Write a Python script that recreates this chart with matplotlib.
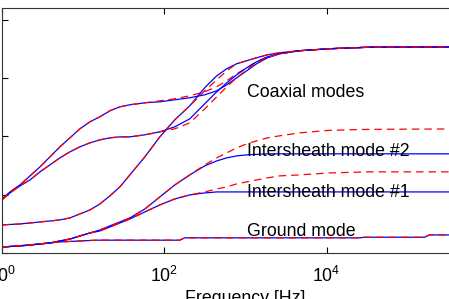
import matplotlib
matplotlib.use("Agg")
from matplotlib import pyplot as plt

plt.rcParams['font.family'] = ['Liberation Sans', 'DejaVu Sans']

# frequencies in Hz shared by the mode curves
freq = [1, 1.254, 1.666, 2.211, 2.936, 3.897, 5.174, 6.869, 9.12, 12.11,
        16.08, 21.34, 28.34, 37.62, 57.54, 88.0, 134.6, 206, 315, 443,
        588, 780, 1036, 1375, 1878, 2640, 4654, 10890, 33820, 1e6]

coax_a_blue = [0.927, 1.047, 1.167, 1.322, 1.476, 1.648, 1.820, 1.974, 2.129, 2.249,
               2.335, 2.438, 2.506, 2.541, 2.575, 2.592, 2.627, 2.661, 2.712, 2.781,
               2.884, 3.004, 3.124, 3.245, 3.348, 3.416, 3.468, 3.502, 3.528, 3.536]
coax_a_red = [0.927, 1.047, 1.167, 1.322, 1.476, 1.648, 1.820, 1.974, 2.129, 2.249,
              2.335, 2.438, 2.506, 2.541, 2.575, 2.609, 2.644, 2.695, 2.764, 2.850,
              2.953, 3.073, 3.176, 3.279, 3.365, 3.416, 3.468, 3.502, 3.528, 3.536]

coax_b_blue = [0.910, 1.030, 1.150, 1.253, 1.391, 1.511, 1.631, 1.734, 1.820, 1.888,
               1.940, 1.974, 1.991, 1.991, 2.026, 2.077, 2.163, 2.300, 2.558, 2.764,
               2.918, 3.056, 3.176, 3.279, 3.365, 3.416, 3.468, 3.502, 3.528, 3.536]
coax_b_red = [0.910, 1.030, 1.150, 1.253, 1.391, 1.511, 1.631, 1.734, 1.820, 1.888,
              1.940, 1.974, 1.991, 1.991, 2.026, 2.077, 2.129, 2.232, 2.472, 2.678,
              2.850, 3.004, 3.142, 3.262, 3.348, 3.416, 3.468, 3.502, 3.528, 3.536]

coax_c_blue = [0.481, 0.489, 0.498, 0.515, 0.532, 0.549, 0.567, 0.601, 0.670, 0.738,
               0.841, 0.979, 1.133, 1.339, 1.648, 1.991, 2.283, 2.524, 2.833, 3.039,
               3.159, 3.245, 3.296, 3.348, 3.399, 3.433, 3.468, 3.502, 3.528, 3.536]
coax_c_red = [0.481, 0.489, 0.498, 0.515, 0.532, 0.549, 0.567, 0.601, 0.670, 0.738,
              0.841, 0.979, 1.133, 1.339, 1.648, 1.991, 2.283, 2.524, 2.781, 2.970,
              3.124, 3.245, 3.296, 3.348, 3.399, 3.433, 3.468, 3.502, 3.528, 3.536]

inter2_blue = [0.103, 0.112, 0.120, 0.137, 0.155, 0.172, 0.206, 0.240, 0.292, 0.343,
               0.395, 0.464, 0.532, 0.601, 0.755, 0.961, 1.167, 1.339, 1.494, 1.579,
               1.631, 1.665, 1.682, 1.691, 1.700, 1.700, 1.700, 1.700, 1.700, 1.700]
inter2_red = [0.103, 0.112, 0.120, 0.137, 0.155, 0.172, 0.206, 0.240, 0.292, 0.343,
              0.395, 0.464, 0.532, 0.601, 0.755, 0.961, 1.167, 1.339, 1.511, 1.631,
              1.717, 1.803, 1.871, 1.923, 1.974, 2.009, 2.060, 2.103, 2.120, 2.129]

inter1_blue = [0.103, 0.112, 0.120, 0.137, 0.155, 0.172, 0.206, 0.240, 0.292, 0.343,
               0.378, 0.446, 0.515, 0.584, 0.704, 0.824, 0.927, 0.996, 1.030, 1.047,
               1.047, 1.047, 1.047, 1.047, 1.047, 1.047, 1.047, 1.047, 1.047, 1.047]
inter1_red = [0.103, 0.112, 0.120, 0.137, 0.155, 0.172, 0.206, 0.240, 0.292, 0.343,
              0.378, 0.446, 0.515, 0.584, 0.704, 0.824, 0.927, 0.996, 1.047, 1.099,
              1.133, 1.185, 1.219, 1.253, 1.288, 1.322, 1.339, 1.373, 1.391, 1.391]

ground_f = [1, 2.21, 5.17, 14.8, 155, 178, 25460, 29300, 160700, 185300, 1e6]
ground_blue = [0.10, 0.14, 0.19, 0.22, 0.22, 0.26, 0.26, 0.27, 0.27, 0.31, 0.31]
ground_red = [0.10, 0.14, 0.19, 0.22, 0.22, 0.26, 0.26, 0.27, 0.27, 0.31, 0.31]

labels = ["Coaxial modes", "Intersheath mode #2", "Intersheath mode #1", "Ground mode"]
label_y = [2.745, 1.735, 1.045, 0.36]

fig = plt.figure(figsize=(4.49, 2.99), dpi=100)
# the axes run past the right edge, as in the cropped original
ax = fig.add_axes([2 / 449, 46 / 299, 487 / 449, 245 / 299])

pairs = [
    (freq, coax_a_blue, freq, coax_a_red),
    (freq, coax_b_blue, freq, coax_b_red),
    (freq, coax_c_blue, freq, coax_c_red),
    (freq, inter2_blue, freq, inter2_red),
    (freq, inter1_blue, freq, inter1_red),
    (ground_f, ground_blue, ground_f, ground_red),
]
for fb, yb, fr, yr in pairs:
    ax.plot(fb, yb, color=(0, 0, 1), lw=0.9)
    ax.plot(fr, yr, color=(1, 0, 0), lw=0.9, ls=(0, (6, 4)))

for text, y in zip(labels, label_y):
    ax.text(1036, y, text, fontsize=12.8, va='center', ha='left')

ax.set_xscale('log')
ax.set_xlim(1, 1e6)
ax.set_ylim(0, 4.2)
ax.set_xticks([1, 1e2, 1e4])
ax.minorticks_off()
ax.set_yticks([0, 1, 2, 3, 4])
ax.set_yticklabels([])
ax.tick_params(direction='in', top=True, right=True, length=4, width=0.8, labelsize=12.8, pad=9)
for s in ax.spines.values():
    s.set_linewidth(0.8)
    s.set_color('#333333')
ax.set_xlabel("Frequency [Hz]", fontsize=12.8, labelpad=3)

fig.savefig("out.png", dpi=100)
